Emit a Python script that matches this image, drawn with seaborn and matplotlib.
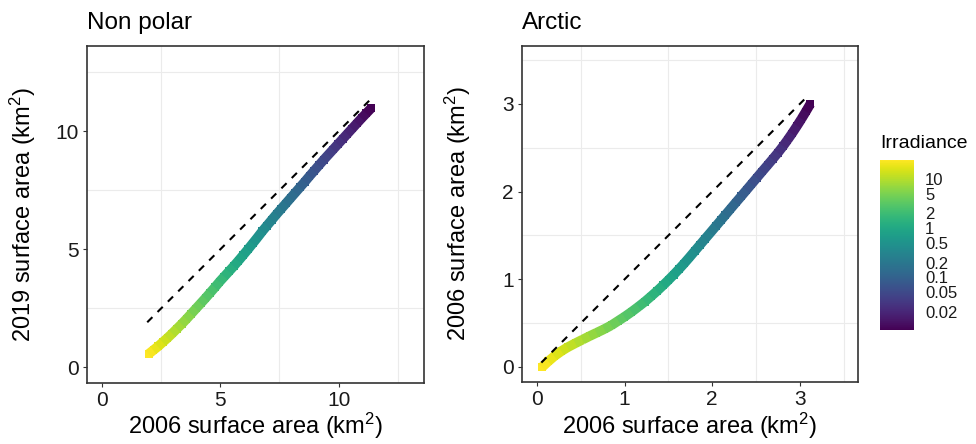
import matplotlib
matplotlib.use("Agg")
import matplotlib.pyplot as plt
from matplotlib.colors import LogNorm
from matplotlib.collections import LineCollection
from matplotlib.ticker import MultipleLocator, FixedLocator, NullLocator
import numpy as np
import pandas as pd
import seaborn as sns

# ---------------- data ----------------
irradiance = [24, 20, 17, 14.5, 12.2, 10.3, 8.7, 7.3, 6.2, 5.2,
              4.4, 3.7, 3.1, 2.65, 2.25, 1.9, 1.6, 1.35, 1.14, 0.96,
              0.81, 0.69, 0.58, 0.49, 0.41, 0.35, 0.295, 0.25, 0.21, 0.178,
              0.15, 0.127, 0.107, 0.09, 0.076, 0.064, 0.054, 0.046, 0.039, 0.033,
              0.028, 0.0235, 0.02, 0.0168, 0.0142, 0.012, 0.0101, 0.0086]

nonpolar_2006 = [1.97, 2.17, 2.37, 2.57, 2.77, 2.97, 3.17, 3.37, 3.57, 3.77,
                 3.97, 4.17, 4.37, 4.57, 4.77, 4.97, 5.17, 5.37, 5.57, 5.77,
                 5.97, 6.17, 6.37, 6.57, 6.77, 6.97, 7.17, 7.37, 7.57, 7.77,
                 7.97, 8.17, 8.37, 8.57, 8.77, 8.97, 9.17, 9.37, 9.57, 9.77,
                 9.97, 10.17, 10.37, 10.57, 10.77, 10.97, 11.17, 11.37]
nonpolar_2019 = [0.57, 0.73, 0.89, 1.07, 1.25, 1.44, 1.64, 1.84, 2.05, 2.27,
                 2.49, 2.71, 2.93, 3.16, 3.39, 3.63, 3.85, 4.07, 4.29, 4.52,
                 4.76, 5.00, 5.25, 5.50, 5.76, 6.00, 6.24, 6.48, 6.71, 6.94,
                 7.17, 7.40, 7.63, 7.86, 8.10, 8.33, 8.56, 8.79, 9.01, 9.23,
                 9.45, 9.67, 9.89, 10.11, 10.33, 10.55, 10.76, 10.97]

arctic_x = [0.06, 0.13, 0.20, 0.28, 0.35, 0.44, 0.52, 0.60, 0.68, 0.77,
            0.85, 0.93, 1.00, 1.08, 1.16, 1.23, 1.30, 1.37, 1.44, 1.50,
            1.56, 1.62, 1.68, 1.74, 1.80, 1.86, 1.92, 1.98, 2.04, 2.10,
            2.15, 2.21, 2.27, 2.33, 2.39, 2.45, 2.51, 2.57, 2.63, 2.69,
            2.75, 2.81, 2.86, 2.91, 2.97, 3.02, 3.07, 3.12]
arctic_y = [0.000, 0.065, 0.125, 0.182, 0.225, 0.272, 0.312, 0.352, 0.390, 0.433,
            0.476, 0.528, 0.573, 0.629, 0.689, 0.744, 0.804, 0.866, 0.932, 0.991,
            1.052, 1.115, 1.181, 1.250, 1.321, 1.392, 1.463, 1.533, 1.604, 1.675,
            1.734, 1.805, 1.876, 1.946, 2.017, 2.088, 2.159, 2.230, 2.300, 2.371,
            2.443, 2.521, 2.590, 2.662, 2.753, 2.832, 2.915, 3.000]

nonpolar_identity = [1.91, 11.44]
arctic_identity = [0.05, 3.07]

panel_titles = ["Non polar", "Arctic"]
x_label = "2006 surface area (km$^2$)"
y_labels = ["2019 surface area (km$^2$)", "2006 surface area (km$^2$)"]
cbar_ticks = [0.02, 0.05, 0.1, 0.2, 0.5, 1, 2, 5, 10]
cbar_ticklabels = ["0.02", "0.05", "0.1", "0.2", "0.5", "1", "2", "5", "10"]
cbar_title = "Irradiance"

# ---------------- style ----------------
sns.set_style("white")
plt.rcParams["font.family"] = ["Liberation Sans", "DejaVu Sans"]
plt.rcParams["mathtext.fontset"] = "custom"
plt.rcParams["mathtext.rm"] = "Liberation Sans"
plt.rcParams["mathtext.it"] = "Liberation Sans:italic"
plt.rcParams["mathtext.bf"] = "Liberation Sans:bold"

fig = plt.figure(figsize=(9.76, 4.44), dpi=100)
ax1 = fig.add_axes([0.0888, 0.138, 0.3459, 0.759])
ax2 = fig.add_axes([0.5345, 0.139, 0.3446, 0.758])
cax = fig.add_axes([0.9016, 0.2568, 0.0348, 0.383])

norm = LogNorm(vmin=0.0086, vmax=24)
cmap = matplotlib.colormaps["viridis"]

panels = [
    (ax1, nonpolar_2006, nonpolar_2019, nonpolar_identity, (-0.65, 13.62), [0, 5, 10], 2.5),
    (ax2, arctic_x, arctic_y, arctic_identity, (-0.1745, 3.664), [0, 1, 2, 3], 0.5),
]

for i, (ax, xs, ys, ident, lims, major, minor) in enumerate(panels):
    df = pd.DataFrame({"x": xs, "y": ys, "irr": irradiance})
    # square points (seaborn) ...
    sns.scatterplot(data=df, x="x", y="y", hue="irr", hue_norm=norm,
                    palette="viridis", marker="s", s=31, linewidth=0,
                    legend=False, ax=ax, zorder=2)
    # ... joined into a continuous band coloured by irradiance
    pts = np.column_stack([df["x"], df["y"]])
    segs = np.stack([pts[:-1], pts[1:]], axis=1)
    irr = df["irr"].to_numpy()
    seg_irr = np.sqrt(irr[:-1] * irr[1:])
    lc = LineCollection(segs, colors=cmap(norm(seg_irr)), linewidths=7.0,
                        capstyle="butt", zorder=2.1)
    ax.add_collection(lc)
    sns.lineplot(x=ident, y=ident, color="black", linewidth=1.5,
                 linestyle=(0, (3.5, 3.5)), ax=ax, zorder=3)
    ax.set_xlim(*lims)
    ax.set_ylim(*lims)
    ax.xaxis.set_major_locator(FixedLocator(major))
    ax.yaxis.set_major_locator(FixedLocator(major))
    ax.xaxis.set_minor_locator(MultipleLocator(minor))
    ax.yaxis.set_minor_locator(MultipleLocator(minor))
    ax.set_axisbelow(True)
    ax.grid(False, which="major")
    ax.grid(True, which="minor", color="#ebebeb", linewidth=0.8)
    ax.tick_params(which="minor", length=0)
    ax.tick_params(which="major", direction="out", length=2.7, width=0.8,
                   color="#333333", labelsize=15, labelcolor="#1a1a1a", pad=3)
    ax.tick_params(axis="x", bottom=True)
    ax.tick_params(axis="y", left=True)
    for sp in ax.spines.values():
        sp.set_visible(True)
        sp.set_color("#333333")
        sp.set_linewidth(1.2)
    ax.set_xlabel(x_label, fontsize=17, color="black")
    ax.set_ylabel(y_labels[i], fontsize=17, color="black")
    ax.xaxis.set_label_coords(0.5, -0.084)
    ax.yaxis.set_label_coords(-0.145, 0.5)
    ax.set_title(panel_titles[i], loc="left", fontsize=17.5, pad=12, color="black")

# ---------------- colorbar ----------------
sm = matplotlib.cm.ScalarMappable(norm=norm, cmap="viridis")
cb = fig.colorbar(sm, cax=cax)
cb.outline.set_visible(False)
cb.set_ticks(cbar_ticks)
cb.set_ticklabels(cbar_ticklabels)
cax.yaxis.set_minor_locator(NullLocator())
cax.tick_params(axis="y", which="major", direction="in", length=4.7, width=0.8,
                color="white", left=True, right=True, labelleft=False,
                labelright=True, labelsize=12, pad=8, labelcolor="#1a1a1a")
cax.set_title(cbar_title, loc="left", fontsize=14, pad=8.4, color="black")

fig.savefig("out.png", dpi=100)
